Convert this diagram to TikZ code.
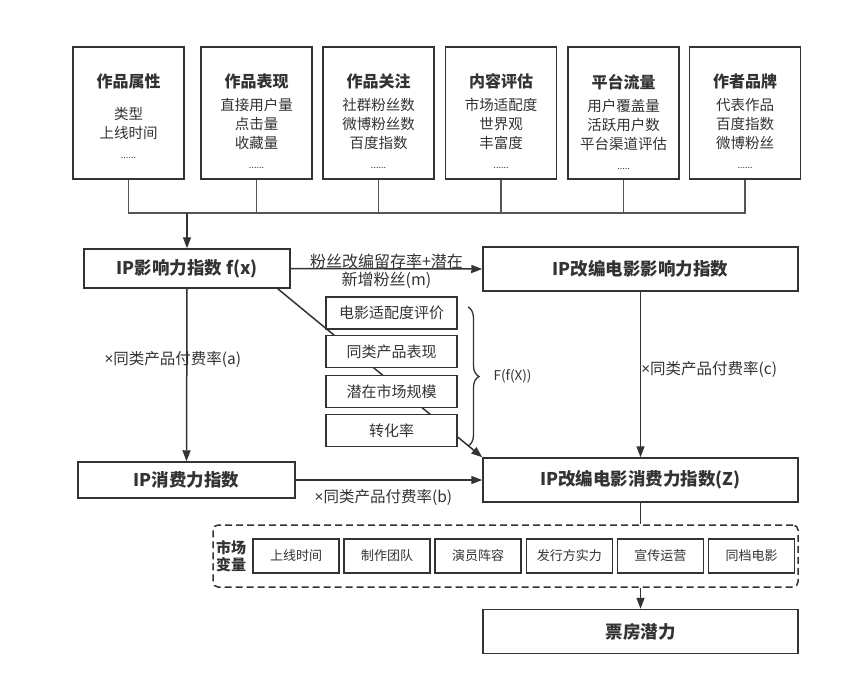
\documentclass[tikz,border=0pt]{standalone}
\usepackage{fontspec}
\setmainfont{Noto Sans CJK SC}
\newfontfamily\latinfont{Noto Sans}
\usepackage{tikz}
\usetikzlibrary{
  arrows.meta,
  positioning,
  decorations.pathreplacing
}
\definecolor{linegray}{HTML}{333333}
\definecolor{busgray}{HTML}{555555}
\def\times{{\latinfont ×}}

\begin{document}
\begin{tikzpicture}[
    x=1pt, y=-1pt,
    color=linegray,
    >={Triangle[length=11pt,width=8pt]},
    attr/.style={
      draw,
      fill=white,
      minimum width=111pt,
      minimum height=132pt
    },
    attrtext/.style={
      align=center,
      inner sep=0pt,
      font=\fontsize{14.5}{19}\selectfont
    },
    index/.style={
      draw,
      fill=white,
      minimum width=315pt,
      minimum height=44pt,
      font=\fontsize{17.5}{20}\bfseries\selectfont
    },
    factor/.style={
      draw,
      fill=white,
      minimum width=131pt,
      minimum height=32pt,
      font=\fontsize{15}{17}\selectfont
    },
    market/.style={
      draw,
      fill=white,
      minimum width=86pt,
      minimum height=34pt,
      font=\fontsize{13}{15}\selectfont
    },
    rate/.style={
      inner sep=1pt,
      align=center,
      font=\fontsize{15.5}{18}\selectfont
    },
    bus/.style={line width=1.3pt, busgray},
    every path/.style={line width=1.5pt}
  ]
  \useasboundingbox (0,0) rectangle (857,686);

  % ========== Attribute boxes ==========
  \node[attr] (p1) at (128.5,113) {};
  \node[attr] (p2) at (256.5,113) {};
  \node[attr] (p3) at (378.5,113) {};
  \node[attr] (p4) at (501,113) {};
  \node[attr] (p5) at (623.5,113) {};
  \node[attr] (p6) at (745,113) {};

  \node[attrtext,below=27pt of p1.north] (t1)
    {{\fontsize{16}{19}\bfseries\selectfont 作品属性}\\[13pt]类型\\上线时间\\[1pt]{\fontsize{9}{12}\selectfont ......}};
  \node[attrtext,below=27pt of p2.north] (t2)
    {{\fontsize{16}{19}\bfseries\selectfont 作品表现}\\[4pt]直接用户量\\点击量\\收藏量\\[1pt]{\fontsize{9}{12}\selectfont ......}};
  \node[attrtext,below=27pt of p3.north] (t3)
    {{\fontsize{16}{19}\bfseries\selectfont 作品关注}\\[4pt]社群粉丝数\\微博粉丝数\\百度指数\\[1pt]{\fontsize{9}{12}\selectfont ......}};
  \node[attrtext,below=27pt of p4.north] (t4)
    {{\fontsize{16}{19}\bfseries\selectfont 内容评估}\\[4pt]市场适配度\\世界观\\丰富度\\[1pt]{\fontsize{9}{12}\selectfont ......}};
  \node[attrtext,below=27pt of p5.north] (t5)
    {{\fontsize{16}{19}\bfseries\selectfont 平台流量}\\[4pt]用户覆盖量\\活跃用户数\\平台渠道评估\\[1pt]{\fontsize{9}{12}\selectfont .....}};
  \node[attrtext,below=27pt of p6.north] (t6)
    {{\fontsize{16}{19}\bfseries\selectfont 作者品牌}\\[4pt]代表作品\\百度指数\\微博粉丝\\[1pt]{\fontsize{9}{12}\selectfont ......}};

  \coordinate (bus) at (128.5,213);
  \draw[bus] (p1.south) -- (p1.south |- bus) -- (p6.south |- bus) -- (p6.south);
  \draw[bus] (p2.south) -- (p2.south |- bus);
  \draw[bus] (p3.south) -- (p3.south |- bus);
  \draw[bus] (p4.south) -- (p4.south |- bus);
  \draw[bus] (p5.south) -- (p5.south |- bus);

  % ========== Index boxes ==========
  \node[index,minimum width=206pt,minimum height=39pt] (fx) at (187,268.5)
    {IP影响力指数 f(x)};
  \node[index] (film) at (640.5,269) {IP改编电影影响力指数};
  \node[index,minimum width=217pt,minimum height=36pt] (cons) at (186.5,480)
    {IP消费力指数};
  \node[index] (z) at (640.5,480) {IP改编电影消费力指数(Z)};

  \draw[->] (fx.north |- bus) -- (fx.north);

  \draw[->] (fx.east) -- (film.west)
    node[rate,midway,yshift=-2.5pt,font=\fontsize{16}{18}\selectfont] (lm) {粉丝改编留存率+潜在\\新增粉丝(m)};
  \draw[->] (fx.south) -- (cons.north)
    node[rate,pos=0.41,xshift=-14pt] (la) {\times 同类产品付费率(a)};
  \draw[->] (cons.east) -- (z.west)
    node[rate,pos=0.47,below=8pt] (lb) {\times 同类产品付费率(b)};
  \draw[->] (film.south) -- (z.north)
    node[rate,pos=0.47,anchor=west,inner sep=0pt] (lc) {\times 同类产品付费率(c)};

  % diagonal runs behind the factor boxes
  \draw[->] ([xshift=-13pt]fx.south east) -- (z.north west);

  \node[factor] (f1) at (391.5,313) {电影适配度评价};
  \node[factor] (f2) at (391.5,351.5) {同类产品表现};
  \node[factor] (f3) at (391.5,391.5) {潜在市场规模};
  \node[factor] (f4) at (391.5,430.5) {转化率};

  \coordinate (brtop) at (468,307);
  \coordinate (brbot) at (468,446);
  \draw[decorate,decoration={brace,amplitude=11pt},line width=1.3pt] (brtop) -- (brbot)
    node[midway,right=24pt,inner sep=1pt,font=\fontsize{13.5}{15}\selectfont] (ffx) {F(f(X))};

  % ========== Market variables ==========
  \node[draw,dash pattern=on 7pt off 4pt,rounded corners=5pt,minimum width=585pt,minimum height=62pt]
    (mkt) at (505.5,556) {};
  \node[align=center,inner sep=0pt,font=\fontsize{15}{17}\bfseries\selectfont]
    (mktlabel) at (231,556) {市场\\变量};

  \node[market] (m1) at (296,556) {上线时间};
  \node[market,right=3.6pt of m1] (m2) {制作团队};
  \node[market,right=3.6pt of m2] (m3) {演员阵容};
  \node[market,right=3.6pt of m3] (m4) {发行方实力};
  \node[market,right=3.6pt of m4] (m5) {宣传运营};
  \node[market,right=3.6pt of m5] (m6) {同档电影};

  \node[index] (office) at (640.5,631.5) {票房潜力};

  \draw (z.south) -- (z.south |- mkt.north);
  \draw[->] (office.north |- mkt.south) -- (office.north);
\end{tikzpicture}
\end{document}
